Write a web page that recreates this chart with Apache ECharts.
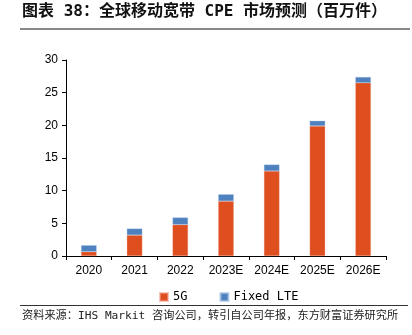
<!DOCTYPE html>
<html><head><meta charset="utf-8">
<script src="https://cdn.jsdelivr.net/npm/echarts@6/dist/echarts.min.js"></script>
<style>html,body{margin:0;padding:0;background:#fff}#c{width:412px;height:335px}</style>
</head><body><div id="c"></div>
<script>
var categories = ['2020','2021','2022','2023E','2024E','2025E','2026E'];
var series5G = [0.65, 3.2, 4.8, 8.4, 13.0, 19.9, 26.5];
var seriesLTE = [1.0, 1.0, 1.1, 1.05, 1.0, 0.8, 0.9];
var yTicks = [0, 5, 10, 15, 20, 25, 30];
var titleText = '图表 38：全球移动宽带 CPE 市场预测（百万件）';
var sourceText = '资料来源：IHS Markit 咨询公司，转引自公司年报，东方财富证券研究所';

var chart = echarts.init(document.getElementById('c'), null, {renderer:'canvas'});
var font = 'Arial, "Liberation Sans", "Noto Sans CJK SC", sans-serif';
var mono = '"DejaVu Sans Mono", "Noto Sans CJK SC", monospace';
chart.setOption({
  animation:false,
  grid:{left:66, right:26, top:60, bottom:79},
  legend:{
    data:['5G','Fixed LTE'], top:286, left:154, itemWidth:8, itemHeight:8, itemGap:32,
    icon:'rect', textStyle:{fontSize:12, color:'#000', fontFamily:mono}
  },
  xAxis:{
    type:'category', data:categories,
    axisLine:{lineStyle:{color:'#000', width:1}},
    axisTick:{show:true, alignWithLabel:false, length:4, lineStyle:{color:'#000'}},
    axisLabel:{fontSize:12, color:'#000', margin:9, fontFamily:font}
  },
  yAxis:{
    type:'value', min:yTicks[0], max:yTicks[yTicks.length-1], interval:5,
    axisLine:{show:true, lineStyle:{color:'#000', width:1}},
    axisTick:{show:true, length:4, lineStyle:{color:'#000'}},
    splitLine:{show:false},
    axisLabel:{fontSize:12, color:'#000', margin:8, fontFamily:font}
  },
  series:[
    {name:'5G', type:'bar', stack:'a', data:series5G, barWidth:'34%',
     itemStyle:{color:'#DE4E1E', borderColor:'rgba(240,160,140,0.6)', borderWidth:0.5}},
    {name:'Fixed LTE', type:'bar', stack:'a', data:seriesLTE, barWidth:'34%',
     itemStyle:{color:'#4F81BF', borderColor:'rgba(170,195,230,0.7)', borderWidth:0.5}}
  ],
  graphic:[
    {type:'text', left:22, top:4, style:{text:titleText, font:'bold 16px ' + mono, fill:'#111'}},
    {type:'rect', shape:{x:20, y:28, width:390, height:2}, style:{fill:'#888'}},
    {type:'rect', shape:{x:20, y:305, width:388, height:1}, style:{fill:'#333'}},
    {type:'text', left:22, top:310, style:{text:sourceText, font:'11.2px ' + mono, fill:'#222'}}
  ]
});
</script></body></html>
